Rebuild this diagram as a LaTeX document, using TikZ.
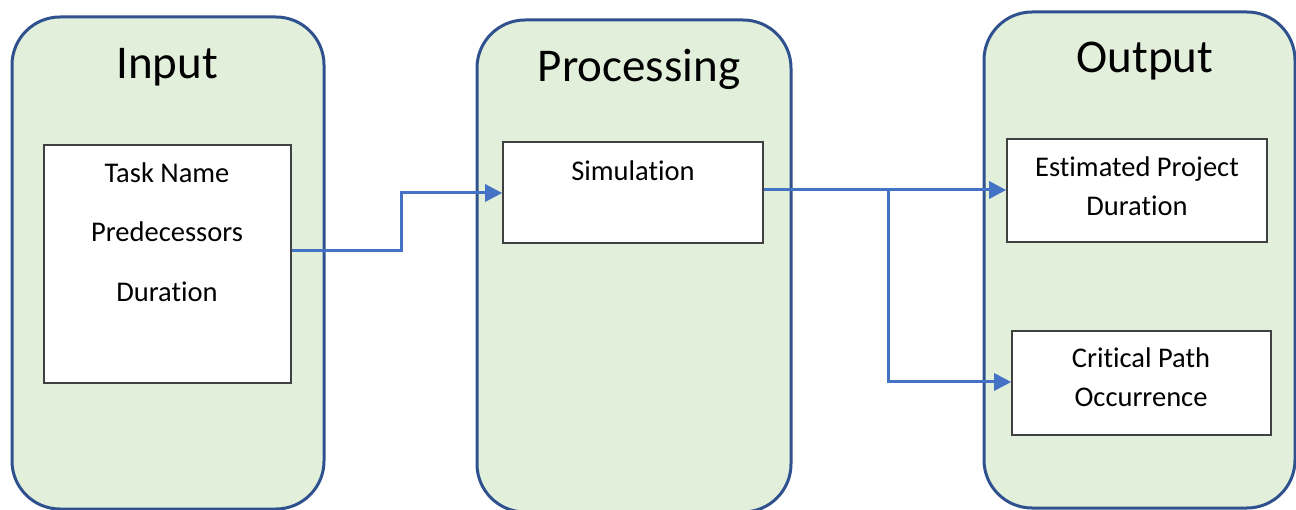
\documentclass[tikz,border=0pt]{standalone}
\usepackage{fontspec}
\setmainfont{Carlito}[Ligatures=NoCommon]
\usetikzlibrary{arrows.meta}

\definecolor{panelfill}{HTML}{E2EFDA}
\definecolor{paneledge}{HTML}{2F528F}
\definecolor{flow}{HTML}{4472C4}
\definecolor{boxedge}{HTML}{404040}

\tikzset{
  panel/.style={draw=paneledge, fill=panelfill, line width=3pt,
    rounded corners=48pt, inner sep=0pt},
  itembox/.style={draw=boxedge, fill=white, line width=1.6pt, inner sep=0pt},
  title/.style={anchor=base, font=\fontsize{47}{56}\selectfont},
  label/.style={anchor=base, font=\fontsize{28.5}{34}\selectfont},
  flowline/.style={draw=flow, line width=3pt,
    -{Triangle[length=17pt,width=17pt]}},
}

\begin{document}
\begin{tikzpicture}[x=1pt,y=-1pt]
\useasboundingbox (0,0) rectangle (1296,510);

% three stage panels
\node[panel, minimum width=312pt, minimum height=492pt] (inpanel) at (168,263) {};
\node[panel, minimum width=314pt, minimum height=492pt] (procpanel) at (634,266) {};
\node[panel, minimum width=311pt, minimum height=496pt] (outpanel) at (1139.5,260) {};

\node[title] (intitle) at (167,79) {Input};
\node[title] (proctitle) at (639,82) {Processing};
\node[title] (outtitle) at (1145,73) {Output};

% input box
\node[itembox, minimum width=247pt, minimum height=238pt] (inbox) at (167.5,264) {};
\node[label] (task) at (167,183) {Task Name};
\node[label] (pred) at (167,242) {Predecessors};
\node[label] (dur) at (167,302) {Duration};

% processing box
\node[itembox, minimum width=260pt, minimum height=101pt] (simbox) at (633,192.5) {};
\node[label] (sim) at (633,181) {Simulation};

% output boxes
\node[itembox, minimum width=260pt, minimum height=103pt] (estbox) at (1137,190.5) {};
\node[label] (est1) at (1137,177) {Estimated Project};
\node[label] (est2) at (1137,216) {Duration};

\node[itembox, minimum width=259pt, minimum height=104pt] (critbox) at (1141.5,383) {};
\node[label] (crit1) at (1141,368) {Critical Path};
\node[label] (crit2) at (1141,407) {Occurrence};

% connectors
\coordinate (bend1) at (401,251);
\coordinate (bend2) at (401,193);
\coordinate (split) at (888,190);
\coordinate (bend3) at (888,382);

\draw[flowline] (inbox.east |- bend1) -- (bend1) -- (bend2) -- (simbox.west |- bend2);
\draw[flowline] (simbox.east |- split) -- (split) -- (estbox.west |- split);
\draw[flowline] (split) -- (bend3) -- (critbox.west |- bend3);
\end{tikzpicture}
\end{document}
